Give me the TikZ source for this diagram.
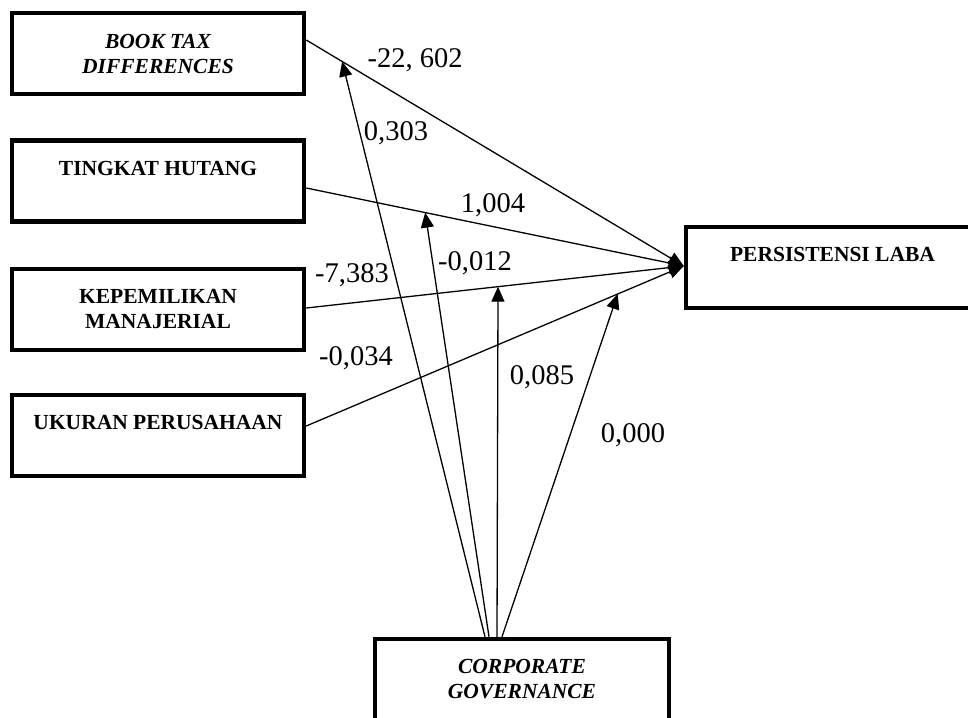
\documentclass[tikz,border=0pt]{standalone}
\usepackage{fontspec}
\setmainfont{Liberation Serif}
\usepackage{tikz}
\usetikzlibrary{calc,arrows.meta,positioning}
\tikzset{
  ar/.style={-{Triangle[length=15pt,width=13pt]},line width=1.3pt,black},
  box/.style={draw=black,line width=4.5pt,minimum width=292pt,minimum height=81pt,align=center,inner sep=4pt,
    font=\bfseries\fontsize{21.5}{25}\selectfont},
  lbl/.style={inner sep=0pt,font=\fontsize{28.5}{32}\selectfont}
}
\begin{document}
\begin{tikzpicture}[x=1pt,y=-1pt]
\useasboundingbox (0,0) rectangle (968,717);
% variabel
\node[box] (btd) at (158,53.5) {\itshape BOOK TAX\\\itshape DIFFERENCES};
\node[box] (th) at (158,181) {TINGKAT HUTANG\\[1pt]~};
\node[box] (km) at (158,309.5) {KEPEMILIKAN\\MANAJERIAL};
\node[box] (up) at (158,435.5) {UKURAN PERUSAHAAN\\[1pt]~};
\node[box,minimum width=293pt] (pl) at (832.5,267.5) {PERSISTENSI LABA\\[1pt]~};
\node[box,minimum width=294pt] (cg) at (522,679.5) {\itshape CORPORATE\\\itshape GOVERNANCE};
\coordinate (pin) at ([yshift=1.5pt]pl.west);
% pengaruh langsung
\draw[ar] ([yshift=13.5pt]btd.east) -- coordinate[pos=.095] (m1) (pin);
\draw[ar] ([yshift=-7pt]th.east) -- coordinate[pos=.315] (m2) (pin);
\draw[ar] ([yshift=1.5pt]km.east) -- coordinate[pos=.508] (m3) (pin);
\draw[ar] ([yshift=9.5pt]up.east) -- coordinate[pos=.825] (m4) (pin);
% moderasi
\draw[ar] ([xshift=-37pt]cg.north) -- (m1);
\draw[ar] ([xshift=-33pt]cg.north) -- (m2);
\draw[ar] ([xshift=-25pt]cg.north) -- (m3);
\draw[ar] ([xshift=-20pt]cg.north) -- (m4);
% koefisien
\node[lbl] (w1) at (415,60) {-22, 602};
\node[lbl] (w2) at (493,205) {1,004};
\node[lbl] (w3) at (352,275) {-7,383};
\node[lbl] (w4) at (356,358) {-0,034};
\node[lbl] (v1) at (396,133) {0,303};
\node[lbl] (v2) at (475,263) {-0,012};
\node[lbl] (v3) at (542,377) {0,085};
\node[lbl] (v4) at (633,435) {0,000};
\end{tikzpicture}
\end{document}
